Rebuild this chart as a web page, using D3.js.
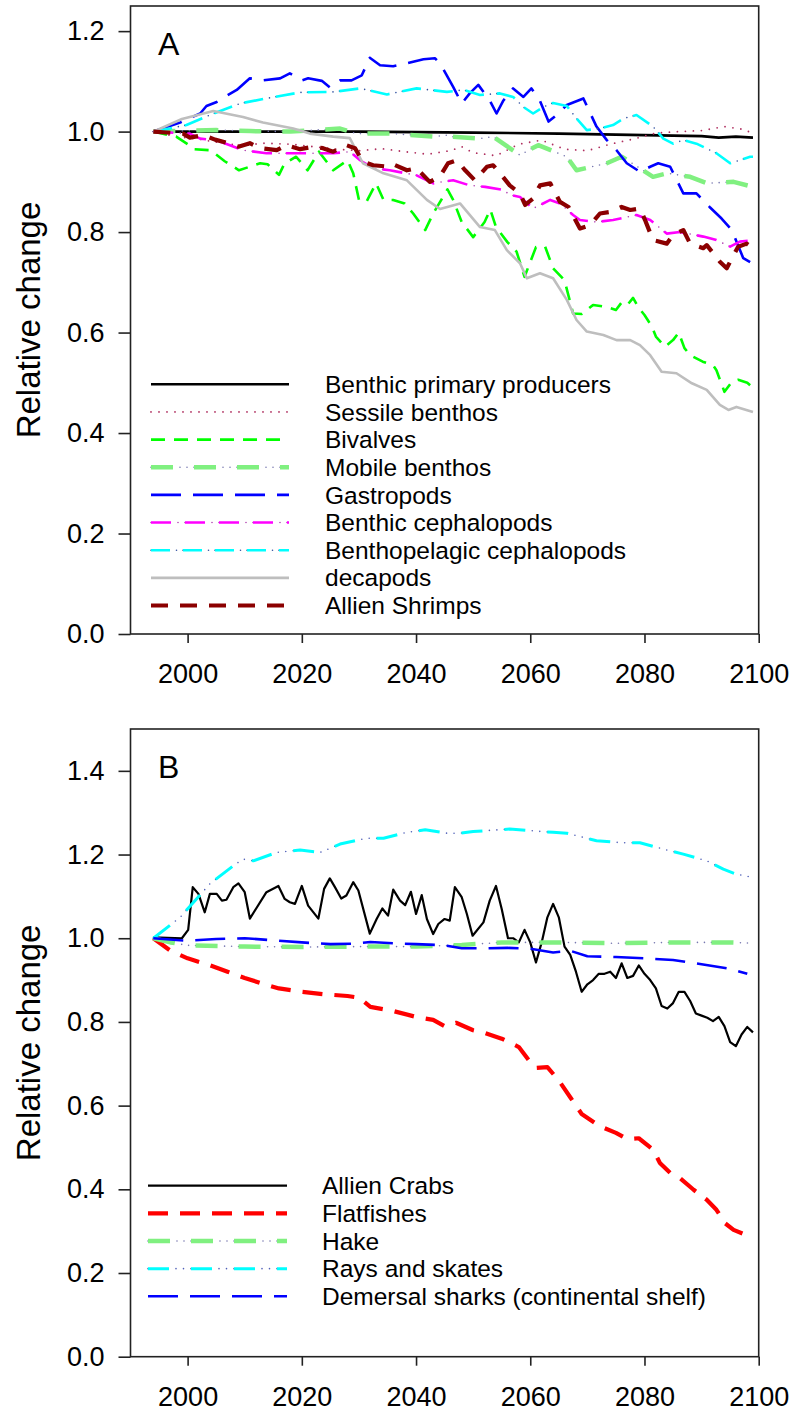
<!DOCTYPE html>
<html>
<head>
<meta charset="utf-8">
<script src="https://cdn.jsdelivr.net/npm/d3@7"></script>
<style>
  html, body { margin: 0; padding: 0; background: #fff; }
  svg { display: block; }
  text { font-family: "Liberation Sans", Arial, Helvetica, sans-serif; fill: #000; }
</style>
</head>
<body>
<svg id="chart" width="796" height="1414"></svg>
<script>
// ---------------- Panel A data: [year, relative change] ----------------
const benthicPrimaryProducers = [[1994,1.0],[2010,1.0],[2030,1.0],[2050,0.998],[2065,0.996],[2080,0.993],[2090,0.991],[2093,0.988],[2096,0.99],[2099,0.988]];
const sessileBenthos = [[1994,1.0],[1998,0.99],[2002,0.985],[2006,0.977],[2010,0.972],[2013,0.977],[2018,0.975],[2022,0.97],[2026,0.965],[2030,0.962],[2034,0.966],[2038,0.96],[2042,0.955],[2046,0.962],[2048,0.97],[2050,0.958],[2054,0.952],[2058,0.975],[2062,0.983],[2066,0.965],[2070,0.962],[2074,0.975],[2078,0.985],[2082,0.997],[2086,1.0],[2090,1.002],[2094,1.01],[2097,1.005],[2099,0.997]];
const bivalves = [[1994,1.0],[1998,0.99],[2000,0.975],[2001,0.965],[2004,0.963],[2006.5,0.941],[2009,0.923],[2012.7,0.937],[2014,0.935],[2016,0.914],[2017,0.937],[2019,0.95],[2021,0.923],[2023,0.96],[2025.5,0.923],[2028,0.943],[2029,0.917],[2030,0.864],[2031.3,0.86],[2033,0.897],[2034.3,0.864],[2036,0.864],[2038,0.857],[2039.5,0.837],[2041.6,0.804],[2043,0.837],[2045.5,0.885],[2046.5,0.864],[2048,0.82],[2050,0.79],[2052,0.82],[2053,0.845],[2054,0.81],[2056,0.78],[2057.6,0.761],[2059,0.711],[2061,0.77],[2062.6,0.771],[2064,0.728],[2066,0.704],[2067.5,0.638],[2069,0.637],[2071,0.655],[2073.4,0.651],[2075,0.645],[2076,0.66],[2077,0.655],[2078,0.669],[2079,0.649],[2080,0.635],[2081.3,0.612],[2082,0.592],[2083.6,0.572],[2085,0.585],[2086,0.6],[2087,0.569],[2088,0.555],[2089,0.549],[2090.2,0.542],[2092,0.535],[2092.6,0.525],[2094,0.482],[2095.3,0.502],[2096.4,0.506],[2098,0.5],[2099,0.49]];
const mobileBenthos = [[1994,1.0],[2005,1.003],[2011,1.001],[2018,1.0],[2026.7,1.006],[2029.6,0.996],[2036,0.996],[2043,0.99],[2045.4,0.993],[2046,0.99],[2051,0.986],[2053.5,0.99],[2058.2,0.953],[2059.7,0.963],[2061.4,0.973],[2066.4,0.95],[2068.1,0.923],[2073.4,0.937],[2076,0.95],[2077,0.943],[2081.5,0.91],[2084,0.917],[2088,0.91],[2091,0.897],[2095.6,0.9],[2099,0.89]];
const gastropods = [[1994,1.0],[1998.7,1.018],[2002.2,1.036],[2003.3,1.051],[2005.1,1.059],[2006.5,1.069],[2008.6,1.083],[2010.9,1.106],[2013.2,1.102],[2016.2,1.106],[2017.9,1.116],[2020,1.102],[2021.1,1.106],[2023.5,1.101],[2024.9,1.088],[2026.7,1.102],[2028.7,1.102],[2030.5,1.112],[2031.9,1.147],[2033.7,1.132],[2036,1.13],[2038.4,1.136],[2041.3,1.144],[2043.3,1.146],[2044.2,1.136],[2046.5,1.089],[2048,1.056],[2049.4,1.076],[2050.9,1.093],[2052.9,1.062],[2054.1,1.036],[2055.3,1.062],[2057,1.086],[2058.8,1.069],[2060.2,1.086],[2061.7,1.061],[2063.2,1.02],[2064.3,1.03],[2066.4,1.053],[2069.3,1.066],[2070.4,1.039],[2071.6,1.01],[2073.4,0.983],[2075.1,0.963],[2076.9,0.937],[2079.2,0.92],[2081,0.93],[2082.4,0.937],[2084.5,0.93],[2086.8,0.877],[2089.1,0.877],[2091.4,0.85],[2093.5,0.827],[2095.3,0.804],[2097.3,0.748],[2098.5,0.74]];
const benthicCephalopods = [[1994,1.0],[2000.4,0.996],[2002.2,0.986],[2005,0.983],[2009.7,0.963],[2013.8,0.957],[2019.6,0.957],[2025.5,0.957],[2028.4,0.96],[2030.2,0.943],[2032.5,0.927],[2035.4,0.923],[2040.1,0.913],[2043,0.897],[2044.5,0.9],[2046.5,0.903],[2049.4,0.893],[2052.1,0.89],[2055.3,0.884],[2056.4,0.874],[2058.2,0.87],[2060.5,0.847],[2063.5,0.864],[2065.2,0.857],[2067.5,0.834],[2068.7,0.824],[2071.6,0.82],[2074.5,0.824],[2078.6,0.834],[2081,0.824],[2083.9,0.797],[2086.2,0.8],[2090.3,0.791],[2092.6,0.784],[2095,0.771],[2096.7,0.781],[2099,0.784]];
const benthopelagicCephalopods = [[1994,1.0],[1999.8,1.013],[2003.9,1.033],[2009.2,1.056],[2013.8,1.066],[2019.7,1.078],[2025.5,1.079],[2030.2,1.086],[2034.9,1.074],[2040.1,1.086],[2045.4,1.079],[2048.3,1.083],[2051.2,1.073],[2054.7,1.076],[2057,1.069],[2058.8,1.049],[2060.5,1.036],[2062.3,1.049],[2064,1.057],[2066.4,1.051],[2068.1,1.026],[2069.9,1.003],[2072.2,1.006],[2074.5,1.013],[2076.3,1.026],[2078.6,1.033],[2081.5,1.01],[2083.3,0.986],[2085,0.976],[2086.8,0.983],[2089.1,0.976],[2092.6,0.957],[2095,0.937],[2098.5,0.95],[2099,0.95]];
const decapods = [[1994,1.0],[1999,1.025],[2004.5,1.041],[2009.7,1.029],[2013.2,1.018],[2018.5,1.006],[2021.4,0.996],[2025.5,0.99],[2028.4,0.987],[2030.7,0.937],[2034.3,0.917],[2038.4,0.903],[2041.9,0.864],[2044.2,0.846],[2047.7,0.857],[2051.2,0.81],[2053.8,0.804],[2055.9,0.764],[2058.2,0.738],[2059.4,0.708],[2061.7,0.718],[2064,0.708],[2066.4,0.665],[2068.1,0.625],[2069.9,0.602],[2072.8,0.595],[2075.1,0.585],[2077.5,0.585],[2079.2,0.575],[2081,0.555],[2083,0.522],[2085.6,0.519],[2088.3,0.499],[2090.9,0.486],[2093.2,0.456],[2094.7,0.446],[2096.1,0.452],[2099,0.442]];
const allienShrimps = [[1994,1.0],[1999.2,0.996],[2000.4,0.988],[2002.7,0.993],[2004.8,0.984],[2006.8,0.978],[2008.9,0.97],[2010.9,0.977],[2012.7,0.967],[2015.6,0.963],[2017.3,0.973],[2019.7,0.965],[2022,0.97],[2023.7,0.967],[2025.5,0.96],[2027.8,0.973],[2029.3,0.967],[2030.7,0.94],[2032.5,0.933],[2035.4,0.93],[2036,0.935],[2038.4,0.923],[2040.1,0.927],[2042.4,0.9],[2044.2,0.911],[2045.6,0.937],[2047.1,0.943],[2048.6,0.923],[2050.3,0.903],[2052.4,0.93],[2053.5,0.933],[2055,0.913],[2056.4,0.893],[2058.2,0.877],[2059.1,0.854],[2060.5,0.867],[2061.7,0.893],[2063.5,0.897],[2065.2,0.86],[2066.7,0.85],[2068.7,0.807],[2070.5,0.814],[2072.2,0.837],[2074,0.84],[2076,0.85],[2077.5,0.844],[2079.2,0.847],[2080.1,0.824],[2081.5,0.784],[2083.9,0.777],[2085,0.794],[2086.8,0.804],[2088,0.777],[2090.3,0.768],[2090.9,0.774],[2093.2,0.741],[2094.4,0.728],[2095.6,0.754],[2096.4,0.771],[2097.9,0.777],[2099,0.768]];

// ---------------- Panel B data ----------------
const allienCrabs = [[1994,1.002],[1999,1.0],[2000.1,1.02],[2000.9,1.122],[2001.9,1.106],[2003,1.062],[2003.9,1.106],[2005.1,1.106],[2006,1.09],[2006.8,1.092],[2008,1.122],[2008.9,1.131],[2010,1.11],[2010.9,1.047],[2013.8,1.11],[2015.9,1.125],[2017,1.094],[2017.9,1.086],[2018.8,1.082],[2020,1.125],[2021.1,1.078],[2022.9,1.047],[2023.9,1.118],[2024.9,1.143],[2025.8,1.122],[2026.9,1.095],[2027.8,1.102],[2029,1.134],[2029.9,1.114],[2031.9,1.011],[2033.1,1.046],[2034.1,1.071],[2035.1,1.054],[2036,1.116],[2037.2,1.09],[2038.1,1.079],[2039.1,1.111],[2040,1.058],[2041,1.103],[2041.9,1.046],[2043,1.01],[2043.9,1.034],[2045,1.046],[2045.9,1.042],[2046.8,1.122],[2048,1.098],[2048.9,1.058],[2049.9,1.006],[2051.8,1.038],[2052.9,1.09],[2054,1.125],[2055,1.07],[2056.1,1.0],[2057,1.0],[2058,0.99],[2059,1.02],[2060,0.99],[2061,0.942],[2062,0.99],[2063,1.05],[2064,1.082],[2065,1.05],[2066,0.98],[2067,0.96],[2068,0.92],[2069,0.872],[2070,0.89],[2071,0.9],[2072,0.915],[2073,0.915],[2074,0.92],[2075,0.905],[2076,0.94],[2077,0.905],[2078,0.91],[2079,0.935],[2080,0.915],[2081,0.9],[2082,0.88],[2083,0.838],[2084,0.832],[2085,0.845],[2086,0.872],[2087,0.872],[2088,0.85],[2089,0.82],[2090,0.815],[2091,0.81],[2092,0.802],[2093,0.812],[2094,0.79],[2095,0.752],[2096,0.742],[2097,0.77],[2098,0.788],[2099,0.775]];
const flatfishes = [[1994,1.0],[1997,0.97],[2000,0.952],[2004,0.935],[2007,0.92],[2010,0.905],[2013,0.892],[2016,0.88],[2020,0.872],[2024,0.866],[2028,0.862],[2030,0.858],[2032,0.836],[2036,0.826],[2040,0.812],[2043,0.805],[2045,0.79],[2047,0.798],[2050,0.78],[2052,0.774],[2055,0.76],[2058,0.74],[2060,0.704],[2061,0.69],[2063,0.692],[2065,0.66],[2067,0.62],[2069,0.58],[2072,0.552],[2075,0.535],[2077,0.52],[2079,0.522],[2081.5,0.495],[2082.7,0.463],[2084.5,0.439],[2086.2,0.427],[2088.6,0.399],[2090.9,0.375],[2092.6,0.351],[2094.1,0.319],[2095.6,0.303],[2099,0.284]];
const hake = [[1994,1.0],[1997,0.99],[2000,0.983],[2010,0.98],[2020,0.979],[2030,0.98],[2040,0.98],[2048,0.984],[2055,0.99],[2065,0.99],[2075,0.988],[2085,0.99],[2095,0.99],[2099,0.988]];
const raysAndSkates = [[1994,1.0],[1998.7,1.05],[2003.9,1.13],[2008,1.173],[2009.7,1.189],[2011.5,1.185],[2015.6,1.205],[2019.7,1.211],[2023.2,1.205],[2026.7,1.225],[2031.3,1.239],[2034.3,1.239],[2038.4,1.253],[2041.6,1.259],[2045.4,1.251],[2047.7,1.251],[2050,1.255],[2056.4,1.261],[2064,1.253],[2066.4,1.251],[2071.6,1.233],[2076.3,1.228],[2079.2,1.228],[2083.3,1.213],[2086.8,1.201],[2090.9,1.185],[2093.8,1.165],[2096.1,1.153],[2098.8,1.146],[2099,1.145]];
const demersalSharks = [[1994,1.0],[2000,0.994],[2005,0.998],[2010,1.0],[2015,0.995],[2020,0.99],[2025,0.986],[2029,0.987],[2032,0.991],[2036,0.988],[2040,0.986],[2045,0.983],[2048,0.976],[2052,0.976],[2056,0.977],[2060,0.975],[2064,0.966],[2067,0.97],[2070,0.957],[2075,0.955],[2080,0.952],[2085,0.948],[2090,0.938],[2095,0.927],[2098,0.915]];

// Legend labels, in drawing order
const seriesNamesA = ["Benthic primary producers","Sessile benthos","Bivalves","Mobile benthos","Gastropods","Benthic cephalopods","Benthopelagic cephalopods","decapods","Allien Shrimps"];
const seriesNamesB = ["Allien Crabs","Flatfishes","Hake","Rays and skates","Demersal sharks (continental shelf)"];

// Axis ticks
const xTicks = [2000, 2020, 2040, 2060, 2080, 2100];
const yTicksA = [0.0, 0.2, 0.4, 0.6, 0.8, 1.0, 1.2];
const yTicksB = [0.0, 0.2, 0.4, 0.6, 0.8, 1.0, 1.2, 1.4];

// ---------------- Line styles ----------------
// dash: main stroke pattern; dots: optional small dots placed in the gaps
const stylesA = [
  { data: benthicPrimaryProducers, color: "#000000", width: 2.6, dash: null },
  { data: sessileBenthos, color: "#b03060", width: 1.8, dash: "0,8", round: true },
  { data: bivalves, color: "#00ff00", width: 2.6, dash: "14,9" },
  { data: mobileBenthos, color: "#80f080", width: 4.5, dash: "22,21", dots: { color: "#7878b0", pattern: "0,29,0,7,0,7" } },
  { data: gastropods, color: "#0000ff", width: 2.6, dash: "30,12" },
  { data: benthicCephalopods, color: "#ff00ff", width: 2.6, dash: "20,14", dots: { color: "#b040b0", pattern: "0,27,0,7" } },
  { data: benthopelagicCephalopods, color: "#00ffff", width: 2.6, dash: "19,13", dots: { color: "#3050a0", pattern: "0,25.5,0,6.5" } },
  { data: decapods, color: "#bebebe", width: 2.6, dash: null },
  { data: allienShrimps, color: "#8b0000", width: 4.2, dash: "17,12" }
];
const stylesB = [
  { data: allienCrabs, color: "#000000", width: 2.2, dash: null },
  { data: flatfishes, color: "#ff0000", width: 4.2, dash: "20,12" },
  { data: hake, color: "#80f080", width: 4.5, dash: "22,21", dots: { color: "#7878b0", pattern: "0,29,0,7,0,7" } },
  { data: raysAndSkates, color: "#00ffff", width: 3, dash: "21,22", dots: { color: "#5060b8", pattern: "0,28,0,7.5,0,7.5" } },
  { data: demersalSharks, color: "#0000ff", width: 2.6, dash: "30,12" }
];

const svg = d3.select("#chart");
const FONT = "'Liberation Sans', Arial, Helvetica, sans-serif";

function drawPanel(cfg) {
  const x = d3.scaleLinear().domain([1990, 2100]).range([130.5, 758.7]);
  const y = d3.scaleLinear().domain(cfg.yDomain).range([cfg.bottom, cfg.top]);
  const g = svg.append("g");

  const clipId = "clip-" + cfg.letter;
  g.append("clipPath").attr("id", clipId)
    .append("rect").attr("x", x.range()[0]).attr("y", cfg.top)
    .attr("width", x.range()[1] - x.range()[0]).attr("height", cfg.bottom - cfg.top);

  const line = d3.line().x(d => x(d[0])).y(d => y(d[1]));
  const plot = g.append("g").attr("clip-path", `url(#${clipId})`);

  function strokePath(sel, s) {
    if (s.dots) {
      sel.append("path").attr("d", s.path)
        .attr("fill", "none").attr("stroke", s.dots.color).attr("stroke-width", 1.6)
        .attr("stroke-linecap", "round").attr("stroke-dasharray", s.dots.pattern);
    }
    sel.append("path").attr("d", s.path)
      .attr("fill", "none").attr("stroke", s.color).attr("stroke-width", s.width)
      .attr("stroke-linejoin", "round")
      .attr("stroke-linecap", s.round ? "round" : "butt")
      .attr("stroke-dasharray", s.dash);
  }

  cfg.styles.forEach(s => strokePath(plot, Object.assign({}, s, { path: line(s.data) })));

  // legend
  const lg = g.append("g");
  cfg.names.forEach((name, i) => {
    const s = cfg.styles[i];
    const ly = cfg.legendY + i * 27.65;
    const seg = [[x.invert(cfg.legendX0), 0], [x.invert(cfg.legendX1), 0]];
    const ln = d3.line().x(d => x(d[0])).y(() => ly);
    strokePath(lg, Object.assign({}, s, { path: ln(seg) }));
    lg.append("text").attr("x", cfg.legendTextX).attr("y", ly + 8.6)
      .attr("font-size", 24.5).style("font-family", FONT).text(name);
  });

  // axes
  const xAxis = d3.axisBottom(x).tickValues(xTicks).tickSize(9).tickPadding(21).tickFormat(d3.format("d"));
  const yAxis = d3.axisLeft(y).tickValues(cfg.yTicks).tickSize(12).tickPadding(14).tickFormat(d3.format(".1f"));
  const gx = g.append("g").attr("transform", `translate(0,${cfg.bottom})`).call(xAxis);
  const gy = g.append("g").attr("transform", `translate(130.5,0)`).call(yAxis);
  [gx, gy].forEach(a => {
    a.select(".domain").remove();
    a.selectAll("line").attr("stroke", "#222").attr("stroke-width", 1.6);
    a.selectAll("text").attr("font-size", 27).style("font-family", FONT).attr("fill", "#000");
  });

  // plot frame
  g.append("rect").attr("x", x.range()[0]).attr("y", cfg.top)
    .attr("width", x.range()[1] - x.range()[0]).attr("height", cfg.bottom - cfg.top)
    .attr("fill", "none").attr("stroke", "#222").attr("stroke-width", 1.6);

  // panel letter
  g.append("text").attr("x", 158).attr("y", cfg.top + 49).attr("font-size", 32)
    .style("font-family", FONT).text(cfg.letter);

  // y axis title
  g.append("text").attr("transform", `translate(40,${(cfg.top + cfg.bottom) / 2}) rotate(-90)`)
    .attr("text-anchor", "middle").attr("font-size", 33).style("font-family", FONT)
    .text("Relative change");
}

drawPanel({ letter: "A", top: 6, bottom: 634, yDomain: [0, 1.25], yTicks: yTicksA,
  styles: stylesA, names: seriesNamesA, legendY: 384.3, legendX0: 151, legendX1: 289, legendTextX: 325 });
drawPanel({ letter: "B", top: 729, bottom: 1356.7, yDomain: [0, 1.5], yTicks: yTicksB,
  styles: stylesB, names: seriesNamesB, legendY: 1185.7, legendX0: 148, legendX1: 287, legendTextX: 322 });
</script>
</body>
</html>
